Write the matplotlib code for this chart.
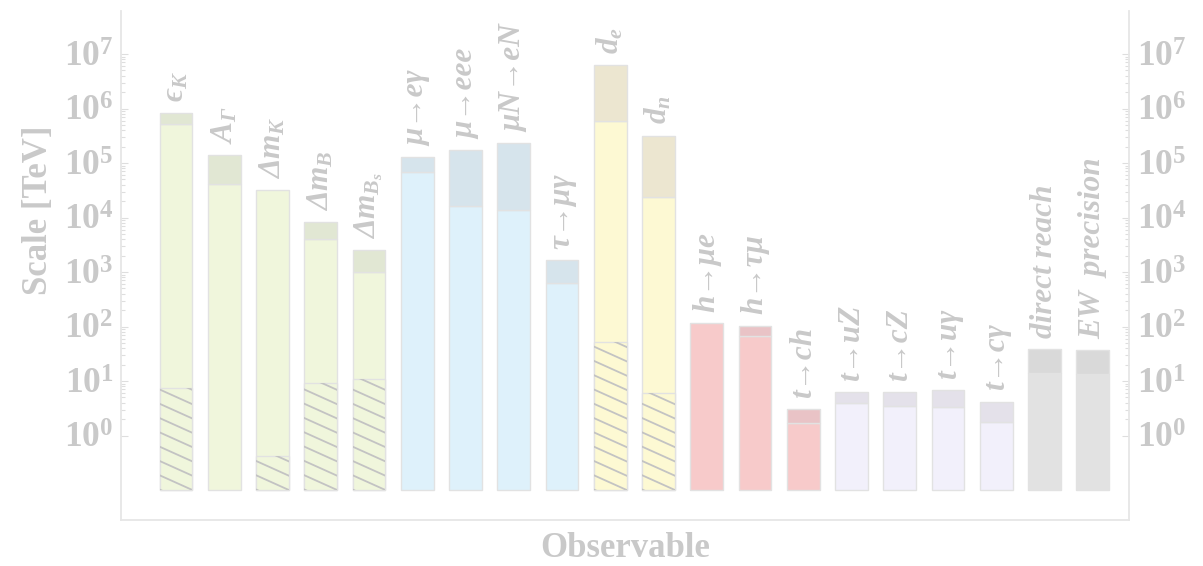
import matplotlib
matplotlib.use("Agg")
import matplotlib.pyplot as plt
import numpy as np
from matplotlib.collections import LineCollection
from matplotlib.ticker import FixedLocator, NullFormatter

plt.rcParams.update({
    "font.family": ["Liberation Serif", "DejaVu Serif"],
    "mathtext.fontset": "custom",
    "mathtext.rm": "Liberation Serif:bold:italic",
    "mathtext.it": "Liberation Serif:bold:italic",
    "mathtext.bf": "Liberation Serif:bold",
    "mathtext.fallback": "stix",
})

# observables and the scales they probe [TeV]
labels = [
    r"$ϵ_K$", r"$A_\Gamma$", r"$\Delta m_K$", r"$\Delta m_B$", r"$\Delta m_{B_s}$",
    "μ→eγ", "μ→eee", "μN→eN", "τ→μγ", r"$d_e$", r"$d_n$",
    "h→μe", "h→τμ", "t→ch", "t→uZ", "t→cZ", "t→uγ", "t→cγ",
    "direct reach", "EW  precision",
]
upper = [8.3e5, 1.42e5, 3.2e4, 8.3e3, 2.5e3, 1.27e5, 1.7e5, 2.3e5, 1.67e3, 6.3e6,
         3.2e5, 116, 104, 3.1, 6.2, 6.2, 6.8, 4.2, 38, 37]
lower = [5.2e5, 4.2e4, 3.2e4, 4.1e3, 1.0e3, 6.9e4, 1.6e4, 1.4e4, 6.3e2, 6.0e5,
         2.4e4, 116, 67, 1.7, 3.9, 3.55, 3.4, 1.76, 14.2, 13.2]
hatched = [7.3, None, 0.42, 9.3, 10.7, None, None, None, None, 53,
           6.1, None, None, None, None, None, None, None, None, None]
groups = (["quark"] * 5 + ["lepton"] * 4 + ["edm"] * 2 + ["higgs"] * 3
          + ["top"] * 4 + ["ew"] * 2)

BASE = {"quark": "#f0f6dc", "lepton": "#def1fb", "edm": "#fdf9d3",
        "higgs": "#f7caca", "top": "#f2f0fb", "ew": "#e2e2e2"}
TOP = {"quark": "#e1e7d3", "lepton": "#d6e4ec", "edm": "#ece6d0",
       "higgs": "#e9c3c6", "top": "#e4e1ea", "ew": "#d9d9d9"}
TEXT = "#c9c9c9"
EDGE = "#e2e2e2"
FLOOR = 0.1
W = 0.68

fig = plt.figure(figsize=(12.03, 5.66), dpi=100)
ax = fig.add_axes([121 / 1203, 46 / 566, 1008 / 1203, 509 / 566])
ax.set_yscale("log")
ax.set_xlim(-1.14, 19.75)
ax.set_ylim(10 ** -1.55, 10 ** 7.79)

x = np.arange(len(labels))
upper = np.array(upper)
lower = np.array(lower)

ax.bar(x, lower - FLOOR, bottom=FLOOR, width=W,
       color=[BASE[g] for g in groups], edgecolor=EDGE, linewidth=1)
split = upper > lower
ax.bar(x[split], (upper - lower)[split], bottom=lower[split], width=W,
       color=[TOP[g] for g, s in zip(groups, split) if s], edgecolor=EDGE, linewidth=1)

# shallow diagonal hatching on the lower parts
ext = ax.get_window_extent()
aw, ah = ext.width, ext.height
to_ax = ax.transData + ax.transAxes.inverted()
slope, gap = 0.45, 14.3
for i, h in enumerate(hatched):
    if h is None:
        continue
    rect = ax.bar(i, h - FLOOR, bottom=FLOOR, width=W, color=BASE[groups[i]],
                  edgecolor=EDGE, linewidth=1)[0]
    (x0, y0), (x1, y1) = to_ax.transform([(i - W / 2, FLOOR), (i + W / 2, h)])
    px0, px1, py0, py1 = x0 * aw, x1 * aw, y0 * ah, y1 * ah
    c0 = py0 + slope * px1
    segs = []
    k = -1
    while c0 + k * gap - slope * px1 < py1 + gap:
        c = c0 + k * gap
        segs.append([((px0 - 5) / aw, (c - slope * (px0 - 5)) / ah),
                     ((px1 + 5) / aw, (c - slope * (px1 + 5)) / ah)])
        k += 1
    lc = LineCollection(segs, colors="#c3c3c3", linewidths=1.3,
                        transform=ax.transAxes)
    ax.add_collection(lc)
    lc.set_clip_path(rect)

for i, (lab, top) in enumerate(zip(labels, upper)):
    ax.annotate(lab, (i, top), xytext=(0, 8), textcoords="offset points",
                rotation=90, ha="center", va="bottom", color=TEXT,
                fontsize=22.5, fontweight="bold", fontstyle="italic")

majors = [10.0 ** d for d in range(8)]
minors = [m * 10.0 ** d for d in range(7) for m in range(2, 10)]
ax.yaxis.set_major_locator(FixedLocator(majors))
ax.yaxis.set_minor_locator(FixedLocator(minors))
ax.yaxis.set_minor_formatter(NullFormatter())
ax.set_yticklabels([rf"$\mathbf{{10^{{{d}}}}}$" for d in range(8)])
ax.set_xticks([])
ax.tick_params(axis="y", which="both", direction="in", left=True, right=True,
               labelleft=True, labelright=True, colors="#dedede",
               labelcolor=TEXT, labelsize=25.5, pad=5.5)
ax.tick_params(axis="y", which="major", length=5, width=0.8)
ax.tick_params(axis="y", which="minor", length=3, width=0.8)

ax.spines["top"].set_visible(False)
for side in ("left", "right", "bottom"):
    ax.spines[side].set_color("#e6e6e6")
    ax.spines[side].set_linewidth(1.3)

fig.text(38 / 1203, 1 - 210 / 566, "Scale [TeV]", rotation=90, ha="center",
         va="center", fontsize=25, fontweight="bold", color=TEXT)
fig.text(625 / 1203, 1 / 566, "Observable", ha="center", va="bottom",
         fontsize=25, fontweight="bold", color=TEXT)

fig.savefig("out.png", dpi=100)
